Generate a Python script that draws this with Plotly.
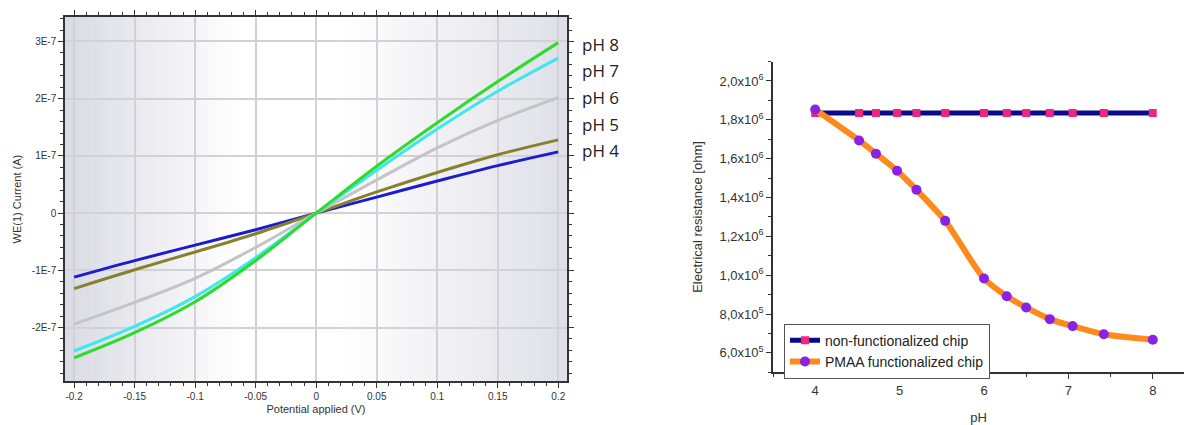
import plotly.graph_objects as go

# ---- I-V sweeps at different pH (left panel) ----
voltage = [-0.2, -0.15, -0.1, -0.05, 0.0, 0.05, 0.1, 0.15, 0.2]
current_ph4 = [-1.12e-7, -0.83e-7, -0.56e-7, -0.29e-7, 0.0, 0.28e-7, 0.56e-7, 0.83e-7, 1.07e-7]
current_ph5 = [-1.32e-7, -0.99e-7, -0.68e-7, -0.36e-7, 0.0, 0.37e-7, 0.71e-7, 1.02e-7, 1.28e-7]
current_ph6 = [-1.94e-7, -1.56e-7, -1.14e-7, -0.60e-7, 0.0, 0.58e-7, 1.14e-7, 1.62e-7, 2.02e-7]
current_ph7 = [-2.41e-7, -1.98e-7, -1.46e-7, -0.78e-7, 0.0, 0.75e-7, 1.47e-7, 2.13e-7, 2.71e-7]
current_ph8 = [-2.53e-7, -2.09e-7, -1.55e-7, -0.83e-7, 0.0, 0.82e-7, 1.58e-7, 2.30e-7, 2.98e-7]
series_labels = ["pH 4", "pH 5", "pH 6", "pH 7", "pH 8"]

iv_xticks = [-0.2, -0.15, -0.1, -0.05, 0.0, 0.05, 0.1, 0.15, 0.2]
iv_xtext = ["-0.2", "-0.15", "-0.1", "-0.05", "0", "0.05", "0.1", "0.15", "0.2"]
iv_yticks = [-2e-7, -1e-7, 0.0, 1e-7, 2e-7, 3e-7]
iv_ytext = ["-2E-7", "-1E-7", "0", "1E-7", "2E-7", "3E-7"]

# ---- Resistance vs pH (right panel) ----
ph = [4.0, 4.52, 4.72, 4.97, 5.2, 5.54, 6.0, 6.27, 6.5, 6.78, 7.05, 7.42, 8.0]
r_bare = [1.835e6, 1.835e6, 1.835e6, 1.835e6, 1.835e6, 1.835e6, 1.835e6,
          1.835e6, 1.835e6, 1.835e6, 1.835e6, 1.835e6, 1.835e6]
r_pmaa = [1.853e6, 1.694e6, 1.626e6, 1.538e6, 1.44e6, 1.28e6, 0.983e6,
          0.892e6, 0.834e6, 0.774e6, 0.738e6, 0.696e6, 0.668e6]
res_names = ["non-functionalized chip", "PMAA functionalized chip"]

r_yticks = [6e5, 8e5, 1.0e6, 1.2e6, 1.4e6, 1.6e6, 1.8e6, 2.0e6]
r_ytext = ["6,0x10<sup>5</sup>", "8,0x10<sup>5</sup>", "1,0x10<sup>6</sup>",
           "1,2x10<sup>6</sup>", "1,4x10<sup>6</sup>", "1,6x10<sup>6</sup>",
           "1,8x10<sup>6</sup>", "2,0x10<sup>6</sup>"]
r_xticks = [4, 5, 6, 7, 8]

W, H = 1184, 425
fig = go.Figure()

iv_colors = ["#1c1ccf", "#86812c", "#c4c4c4", "#3ee6ee", "#2bdc2b"]
for cur, col, name in zip([current_ph4, current_ph5, current_ph6, current_ph7, current_ph8],
                          iv_colors, series_labels):
    fig.add_trace(go.Scatter(x=voltage, y=cur, mode="lines", name=name,
                             line=dict(color=col, width=3, shape="spline", smoothing=1.0),
                             showlegend=False, xaxis="x", yaxis="y"))

fig.add_trace(go.Scatter(x=ph, y=r_bare, mode="lines+markers", name=res_names[0],
                         line=dict(color="#0a0a8c", width=5),
                         marker=dict(symbol="square", size=8, color="#f0267a"),
                         xaxis="x2", yaxis="y2"))
fig.add_trace(go.Scatter(x=ph, y=r_pmaa, mode="lines+markers", name=res_names[1],
                         line=dict(color="#ff8a1c", width=6, shape="spline", smoothing=0.7),
                         marker=dict(symbol="circle", size=10, color="#8a22e6"),
                         xaxis="x2", yaxis="y2"))

# soft vertical shading behind the I-V plot area
shapes = []
n_strips = 60
for i in range(n_strips):
    t = (i + 0.5) / n_strips
    if t < 0.35:
        k = (0.35 - t) / 0.35
    elif t > 0.55:
        k = (t - 0.55) / 0.45 * 0.85
    else:
        k = 0.0
    r = int(round(255 - 37 * k))
    b = int(round(255 - 27 * k))
    shapes.append(dict(type="rect", xref="x domain", yref="y domain",
                       x0=i / n_strips, x1=(i + 1) / n_strips + 0.002, y0=0, y1=1,
                       line=dict(width=0), fillcolor=f"rgb({r},{r},{b})", layer="below"))

iv_font = dict(family="Liberation Sans, Arial, sans-serif", size=10, color="#333")
res_font = dict(family="Liberation Sans, Arial, sans-serif", size=13, color="#333")

fig.update_layout(
    width=W, height=H,
    margin=dict(l=0, r=0, t=0, b=0),
    paper_bgcolor="white", plot_bgcolor="white",
    shapes=shapes,
    xaxis=dict(domain=[65 / W, 567 / W], range=[-0.2075, 0.2072],
               tickvals=iv_xticks, ticktext=iv_xtext, tickfont=iv_font,
               showgrid=True, gridcolor="#d2d2d6", gridwidth=1.5, zeroline=False,
               showline=True, linecolor="#333", linewidth=1.5, mirror="ticks",
               ticks="outside", ticklen=5, tickcolor="#333",
               minor=dict(ticks="outside", ticklen=3, dtick=0.01, tick0=0, tickcolor="#333",
                          showgrid=False),
               title=dict(text="Potential applied (V)", font=dict(iv_font, size=11), standoff=4),
               anchor="y"),
    yaxis=dict(domain=[1 - 384 / H, 1 - 17 / H], range=[-2.94e-7, 3.43e-7],
               tickvals=iv_yticks, ticktext=iv_ytext, tickfont=iv_font,
               showgrid=True, gridcolor="#d2d2d6", gridwidth=1.5, zeroline=False,
               showline=True, linecolor="#333", linewidth=1.5, mirror="ticks",
               ticks="outside", ticklen=5, tickcolor="#333",
               minor=dict(ticks="outside", ticklen=3, dtick=2e-8, tick0=0, tickcolor="#333",
                          showgrid=False),
               title=dict(text="WE(1) Current (A)", font=dict(iv_font, size=11), standoff=8),
               anchor="x"),
    xaxis2=dict(domain=[773 / W, 1.0], range=[3.5, 8.37],
                tickvals=r_xticks, tickfont=res_font,
                showgrid=False, zeroline=False,
                showline=True, linecolor="#333", linewidth=1.5,
                ticks="outside", ticklen=5, tickcolor="#333",
                minor=dict(ticks="outside", ticklen=3, dtick=0.5, tick0=0, tickcolor="#333"),
                title=dict(text="pH", font=res_font, standoff=18),
                anchor="y2"),
    yaxis2=dict(domain=[1 - 375 / H, 1 - 62 / H], range=[5.0e5, 2.1e6],
                tickvals=r_yticks, ticktext=r_ytext, tickfont=res_font,
                showgrid=False, zeroline=False,
                showline=True, linecolor="#333", linewidth=1.5,
                ticks="outside", ticklen=5, tickcolor="#333",
                minor=dict(ticks="outside", ticklen=3, dtick=1e5, tick0=0, tickcolor="#333"),
                title=dict(text="Electrical resistance [ohm]", font=res_font, standoff=14),
                anchor="x2"),
    legend=dict(x=784 / W, y=1 - 326 / H, xanchor="left", yanchor="top",
                bgcolor="white", bordercolor="#555", borderwidth=1,
                font=dict(family="Liberation Sans, Arial, sans-serif", size=14, color="#222"),
                tracegroupgap=0, itemwidth=30),
)

# series labels stacked beside the I-V plot
label_y = [152, 125, 98, 71, 45]
for lab, yy in zip(series_labels, label_y):
    fig.add_annotation(text=lab, xref="paper", yref="paper", x=580 / W, y=1 - yy / H,
                       xanchor="left", yanchor="middle", showarrow=False,
                       font=dict(family="Open Sans, sans-serif", size=17, color="#222"))

fig.write_html("out.html")
